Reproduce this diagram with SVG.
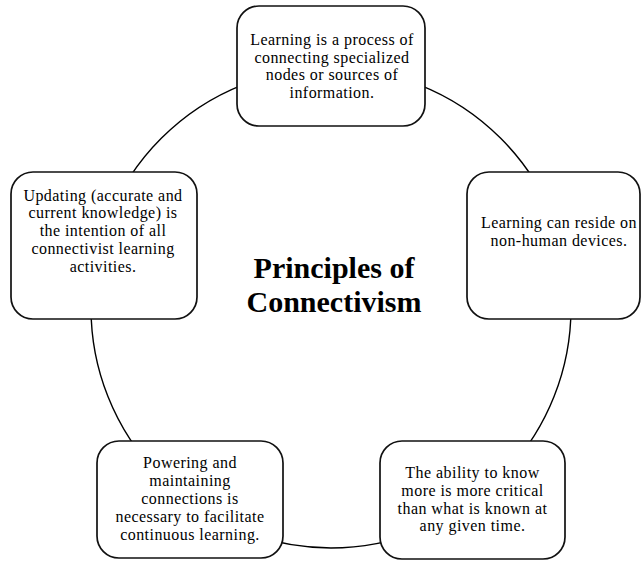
<svg xmlns="http://www.w3.org/2000/svg" width="641" height="561" viewBox="0 0 641 561">
  <style>
    .ring { fill: none; stroke: #000; stroke-width: 1.4; }
    .box { fill: #fff; stroke: #111; stroke-width: 1.7; }
    .txt { font-family: "Liberation Serif", "Times New Roman", serif; font-size: 16px; letter-spacing: 0.45px; fill: #000; text-anchor: middle; }
    .title { font-family: "Liberation Serif", "Times New Roman", serif; font-size: 30px; font-weight: bold; fill: #000; text-anchor: middle; }
  </style>
  <rect width="641" height="561" fill="#fff"/>

  <!-- connecting ring -->
  <g id="connectors">
    <circle class="ring" cx="331" cy="308" r="240"/>
  </g>

  <g id="title">
    <text class="title" x="334" y="278">Principles of<tspan x="334" dy="34">Connectivism</tspan></text>
  </g>

  <g id="node-top">
    <rect class="box" x="237" y="6" width="188" height="120" rx="22" ry="22"/>
    <text class="txt" x="332" y="44.8">Learning is a process of<tspan x="332" dy="17.8">connecting specialized</tspan><tspan x="332" dy="17.8">nodes or sources of</tspan><tspan x="332" dy="17.8">information.</tspan></text>
  </g>

  <g id="node-right">
    <rect class="box" x="467" y="172" width="173" height="147" rx="22" ry="22"/>
    <text class="txt" x="559" y="228">Learning can reside on<tspan x="559" dy="17.8">non-human devices.</tspan></text>
  </g>

  <g id="node-left">
    <rect class="box" x="11" y="172" width="186" height="147" rx="22" ry="22"/>
    <text class="txt" x="103" y="200.6">Updating (accurate and<tspan x="103" dy="17.8">current knowledge) is</tspan><tspan x="103" dy="17.8">the intention of all</tspan><tspan x="103" dy="17.8">connectivist learning</tspan><tspan x="103" dy="17.8">activities.</tspan></text>
  </g>

  <g id="node-bottom-left">
    <rect class="box" x="97" y="441" width="186" height="117" rx="22" ry="22"/>
    <text class="txt" x="190" y="468.4">Powering and<tspan x="190" dy="17.8">maintaining</tspan><tspan x="190" dy="17.8">connections is</tspan><tspan x="190" dy="17.8">necessary to facilitate</tspan><tspan x="190" dy="17.8">continuous learning.</tspan></text>
  </g>

  <g id="node-bottom-right">
    <rect class="box" x="380" y="441" width="185" height="118" rx="22" ry="22"/>
    <text class="txt" x="472.5" y="478">The ability to know<tspan x="472.5" dy="17.8">more is more critical</tspan><tspan x="472.5" dy="17.8">than what is known at</tspan><tspan x="472.5" dy="17.8">any given time.</tspan></text>
  </g>
</svg>
